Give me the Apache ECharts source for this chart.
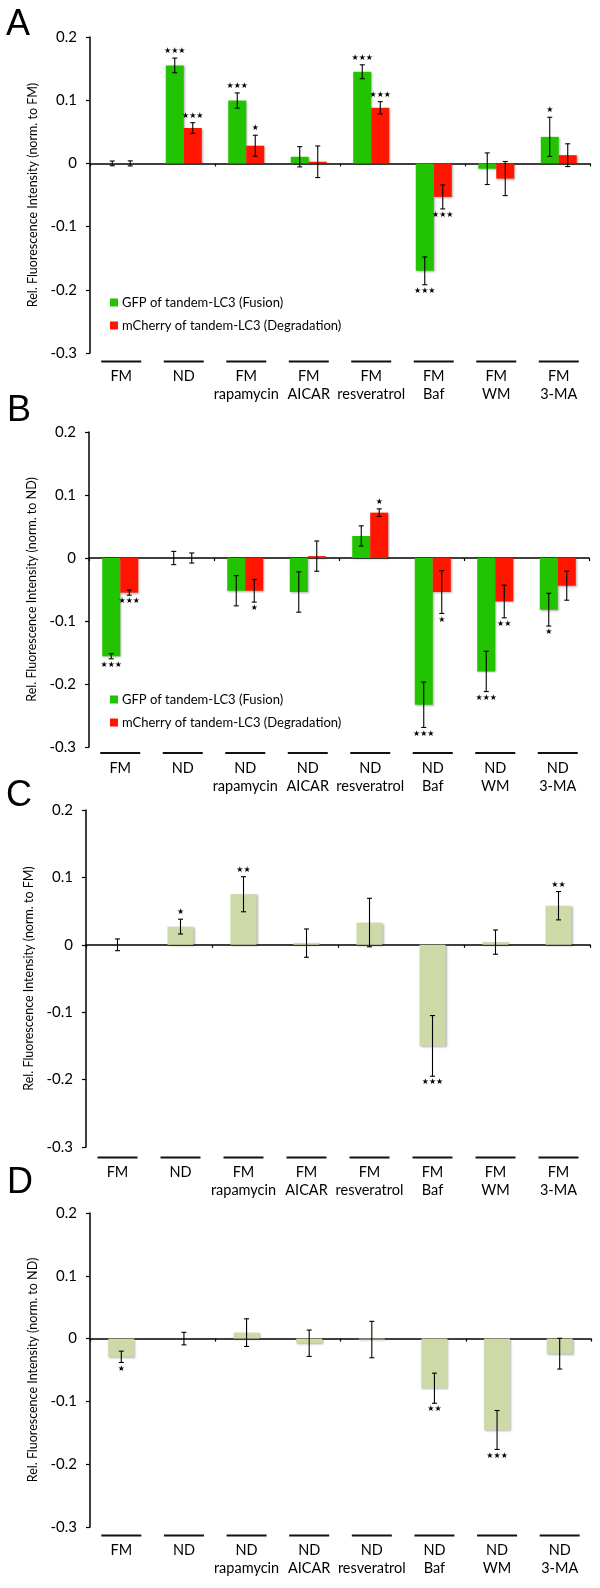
<!DOCTYPE html>
<html lang="en">
<head>
    <meta charset="UTF-8">
    <title>Tandem-LC3 fluorescence</title>
    <script src="https://cdn.jsdelivr.net/npm/echarts@6/dist/echarts.min.js"></script>
    <style>
        body { margin: 0; background: #fff; }
        #chart { width: 600px; height: 1588px; }
    </style>
</head>
<body>
    <div id="chart"></div>

    <script>
        // category labels (second line after \n)
        const catsFM = ['FM', 'ND', 'FM\nrapamycin', 'FM\nAICAR', 'FM\nresveratrol', 'FM\nBaf', 'FM\nWM', 'FM\n3-MA'];
        const catsND = ['FM', 'ND', 'ND\nrapamycin', 'ND\nAICAR', 'ND\nresveratrol', 'ND\nBaf', 'ND\nWM', 'ND\n3-MA'];
        const yTicks = [-0.3, -0.2, -0.1, 0, 0.1, 0.2];

        const gfpName = 'GFP of tandem-LC3 (Fusion)';
        const mchName = 'mCherry of tandem-LC3 (Degradation)';

        // panel A (norm. to FM)
        const gfpA = [0, 0.155, 0.0995, 0.0105, 0.145, -0.170, -0.0084, 0.042];
        const gfpAErr = [0.0037, 0.0116, 0.012, 0.016, 0.011, 0.022, 0.025, 0.031];
        const gfpASig = ['', '***', '***', '', '***', '***', '', '*'];
        const mchA = [0, 0.056, 0.028, 0.0026, 0.088, -0.053, -0.024, 0.013];
        const mchAErr = [0.004, 0.0084, 0.0166, 0.025, 0.0097, 0.019, 0.027, 0.018];
        const mchASig = ['', '***', '*', '', '***', '***', '', ''];

        // panel B (norm. to ND)
        const gfpB = [-0.156, 0, -0.052, -0.054, 0.035, -0.233, -0.180, -0.082];
        const gfpBErr = [0.004, 0.0105, 0.024, 0.032, 0.016, 0.036, 0.032, 0.026];
        const gfpBSig = ['***', '', '', '', '', '***', '***', '*'];
        const mchB = [-0.055, 0, -0.052, 0.003, 0.072, -0.054, -0.069, -0.044];
        const mchBErr = [0.004, 0.008, 0.018, 0.024, 0.006, 0.034, 0.026, 0.023];
        const mchBSig = ['***', '', '*', '', '*', '*', '**', ''];

        // panel C (norm. to FM)
        const valC = [0, 0.027, 0.075, 0.0025, 0.033, -0.150, 0.004, 0.058];
        const errC = [0.0087, 0.011, 0.026, 0.021, 0.036, 0.045, 0.018, 0.021];
        const sigC = ['', '*', '**', '', '', '***', '', '**'];

        // panel D (norm. to ND)
        const valD = [-0.029, 0, 0.0095, -0.0074, -0.0015, -0.079, -0.1455, -0.024];
        const errD = [0.009, 0.01, 0.022, 0.021, 0.029, 0.024, 0.031, 0.0245];
        const sigD = ['*', '', '', '', '', '**', '***', ''];

        const font = 'Lato';
        const green = '#22c300';
        const red = '#ff1500';
        const olive = '#cdd9a6';

        const panels = [
            { grid: { left: 90, right: 10, top: 37, height: 316 }, cats: catsFM, yName: 'Rel. Fluorescence Intensity (norm. to FM)', nameGap: 50, labelMargin: 2.5 },
            { grid: { left: 89, right: 11, top: 432, height: 315 }, cats: catsND, yName: 'Rel. Fluorescence Intensity (norm. to ND)', nameGap: 49, labelMargin: 0 },
            { grid: { left: 86, right: 10, top: 810, height: 337 }, cats: catsFM, yName: 'Rel. Fluorescence Intensity (norm. to FM)', nameGap: 46, labelMargin: 4.5 },
            { grid: { left: 90, right: 9, top: 1213, height: 314 }, cats: catsND, yName: 'Rel. Fluorescence Intensity (norm. to ND)', nameGap: 50, labelMargin: 2.5 }
        ];

        const barShadow = { shadowBlur: 2, shadowColor: 'rgba(0,0,0,0.3)', shadowOffsetX: 1, shadowOffsetY: 1 };

        function errorSeries(k, vals, errs, sigs, shift) {
            return {
                type: 'custom',
                xAxisIndex: k * 2,
                yAxisIndex: k,
                z: 5,
                silent: true,
                data: vals.map((v, i) => [i, v, errs[i]]),
                renderItem: function(params, api) {
                    const i = api.value(0), v = api.value(1), e = api.value(2);
                    const top = api.coord([i, v + e]);
                    const bot = api.coord([i, v - e]);
                    const x = top[0] + shift;
                    const st = { stroke: '#000', lineWidth: 1.1 };
                    const children = [
                        { type: 'line', shape: { x1: x, y1: top[1], x2: x, y2: bot[1] }, style: st },
                        { type: 'line', shape: { x1: x - 2.5, y1: top[1], x2: x + 2.5, y2: top[1] }, style: st },
                        { type: 'line', shape: { x1: x - 2.5, y1: bot[1], x2: x + 2.5, y2: bot[1] }, style: st }
                    ];
                    const s = sigs[params.dataIndex];
                    if (s) {
                        children.push({
                            type: 'text',
                            style: {
                                text: '★'.repeat(s.length),
                                x: x,
                                y: v >= 0 ? top[1] - 7 : bot[1] + 6,
                                align: 'center',
                                verticalAlign: 'middle',
                                fontSize: 8,
                                fontFamily: 'DejaVu Sans',
                                fill: '#000'
                            }
                        });
                    }
                    return { type: 'group', children: children };
                }
            };
        }

        const grids = [], xAxes = [], yAxes = [];
        panels.forEach((p, k) => {
            grids.push(p.grid);
            // axis drawn through zero
            xAxes.push({
                type: 'category', gridIndex: k, data: p.cats, position: 'bottom',
                axisLine: { onZero: true, lineStyle: { color: '#000', width: 1.5 } },
                axisTick: { show: true, length: 3, lineStyle: { color: '#000', width: 1.2 } },
                axisLabel: { show: false }
            });
            // category labels under the plot
            xAxes.push({
                type: 'category', gridIndex: k, data: p.cats, position: 'bottom',
                axisLine: { show: false, onZero: false },
                axisTick: { show: false },
                axisLabel: {
                    interval: 0,
                    margin: p.labelMargin,
                    formatter: function(v) {
                        const parts = v.split('\n');
                        let out = '{ln|\u00a0}\n{t|' + parts[0] + '}';
                        if (parts[1]) out += '\n{t|' + parts[1] + '}';
                        return out;
                    },
                    rich: {
                        ln: { width: 40, height: 2, lineHeight: 12, backgroundColor: '#111' },
                        t: { fontSize: 14.5, lineHeight: 18, fontFamily: font, color: '#000' }
                    }
                }
            });
            yAxes.push({
                type: 'value', gridIndex: k,
                min: yTicks[0], max: yTicks[yTicks.length - 1], interval: 0.1,
                axisLine: { show: true, lineStyle: { color: '#000', width: 1.5 } },
                axisTick: { show: true, length: 4, lineStyle: { color: '#000', width: 1.2 } },
                splitLine: { show: false },
                axisLabel: {
                    margin: 13, fontSize: 15, fontFamily: font, color: '#000',
                    formatter: v => Math.abs(v) < 1e-9 ? '0' : v.toFixed(1)
                },
                name: p.yName,
                nameLocation: 'middle',
                nameGap: p.nameGap,
                nameTextStyle: { fontSize: 12.5, fontFamily: font, color: '#000' }
            });
        });

        const series = [
            { name: gfpName, type: 'bar', xAxisIndex: 0, yAxisIndex: 0, data: gfpA, barWidth: 18, barGap: '0%', itemStyle: Object.assign({ color: green }, barShadow) },
            { name: mchName, type: 'bar', xAxisIndex: 0, yAxisIndex: 0, data: mchA, barWidth: 18, barGap: '0%', itemStyle: Object.assign({ color: red }, barShadow) },
            errorSeries(0, gfpA, gfpAErr, gfpASig, -9),
            errorSeries(0, mchA, mchAErr, mchASig, 9),

            { name: gfpName, type: 'bar', xAxisIndex: 2, yAxisIndex: 1, data: gfpB, barWidth: 18, barGap: '0%', itemStyle: Object.assign({ color: green }, barShadow) },
            { name: mchName, type: 'bar', xAxisIndex: 2, yAxisIndex: 1, data: mchB, barWidth: 18, barGap: '0%', itemStyle: Object.assign({ color: red }, barShadow) },
            errorSeries(1, gfpB, gfpBErr, gfpBSig, -9),
            errorSeries(1, mchB, mchBErr, mchBSig, 9),

            { name: 'C', type: 'bar', xAxisIndex: 4, yAxisIndex: 2, data: valC, barWidth: 26, itemStyle: Object.assign({ color: olive }, barShadow) },
            errorSeries(2, valC, errC, sigC, 0),

            { name: 'D', type: 'bar', xAxisIndex: 6, yAxisIndex: 3, data: valD, barWidth: 26, itemStyle: Object.assign({ color: olive }, barShadow) },
            errorSeries(3, valD, errD, sigD, 0)
        ];

        const legendBase = {
            orient: 'vertical', left: 110, padding: 0, itemWidth: 8, itemHeight: 8, itemGap: 8,
            icon: 'rect', selectedMode: false, data: [gfpName, mchName],
            itemStyle: { shadowBlur: 0, shadowOffsetX: 0, shadowOffsetY: 0 },
            textStyle: { fontSize: 13, fontFamily: font, color: '#000', lineHeight: 15, padding: [0, 0, 0, -1] }
        };

        const letter = (t, x, y) => ({
            type: 'text', left: x, top: y,
            style: { text: t, fontSize: 36, fontFamily: 'Liberation Sans', fill: '#000' }
        });

        const chart = echarts.init(document.getElementById('chart'));
        chart.setOption({
            animation: false,
            grid: grids,
            xAxis: xAxes,
            yAxis: yAxes,
            legend: [
                Object.assign({}, legendBase, { top: 295 }),
                Object.assign({}, legendBase, { top: 692 })
            ],
            graphic: [
                letter('A', 6, 7),
                letter('B', 7, 393),
                letter('C', 6, 778),
                letter('D', 7, 1165)
            ],
            series: series
        });
    </script>
</body>
</html>
